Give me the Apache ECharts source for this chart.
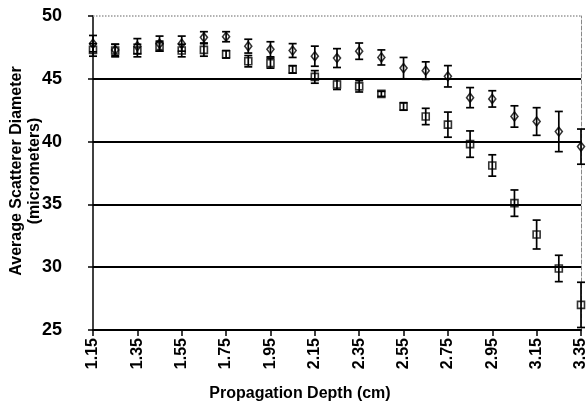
<!DOCTYPE html>
<html>
<head>
<meta charset="utf-8">
<script src="https://cdn.jsdelivr.net/npm/echarts@6/dist/echarts.min.js"></script>
<style>html,body{margin:0;padding:0;background:#fff;}#c{width:587px;height:407px;}</style>
</head>
<body>
<div id="c"></div>
<script>
const depths = ['1.15','1.25','1.35','1.45','1.55','1.65','1.75','1.85','1.95','2.05','2.15','2.25','2.35','2.45','2.55','2.65','2.75','2.85','2.95','3.05','3.15','3.25','3.35'];
const diamondMean = [47.8,47.3,47.6,47.8,47.8,48.3,48.35,47.6,47.35,47.25,46.8,46.65,47.2,46.7,45.85,45.65,45.2,43.5,43.4,42.0,41.6,40.8,39.6];
const diamondErr  = [0.65,0.45,0.6,0.6,0.6,0.45,0.4,0.55,0.6,0.55,0.8,0.75,0.65,0.6,0.85,0.7,0.85,0.8,0.65,0.85,1.1,1.6,1.4];
const squareMean  = [47.3,47.25,47.25,47.6,47.25,47.3,46.95,46.4,46.25,45.75,45.15,44.55,44.4,43.8,42.8,42.0,41.35,39.8,38.1,35.1,32.6,29.9,27.0];
const squareErr   = [0.5,0.5,0.5,0.4,0.5,0.5,0.3,0.45,0.4,0.3,0.5,0.4,0.45,0.2,0.3,0.65,1.0,1.05,0.85,1.05,1.15,1.05,1.8];
const yTicks = [25,30,35,40,45,50];
const yTitle = 'Average Scatterer Diameter\n(micrometers)';
const xTitle = 'Propagation Depth (cm)';

const FONT = 'Arial, "Liberation Sans", sans-serif';
function errData(mean, err){ return mean.map((m,i)=>[i, m-err[i], m+err[i]]); }
function errRender(params, api){
  const x = api.value(0);
  const lo = api.coord([x, api.value(1)]);
  const hi = api.coord([x, api.value(2)]);
  const cw = 4;
  const st = {stroke:'#000', lineWidth:1.7};
  return {type:'group', children:[
    {type:'line', shape:{x1:lo[0],y1:lo[1],x2:hi[0],y2:hi[1]}, style:st},
    {type:'line', shape:{x1:lo[0]-cw,y1:lo[1],x2:lo[0]+cw,y2:lo[1]}, style:st},
    {type:'line', shape:{x1:hi[0]-cw,y1:hi[1],x2:hi[0]+cw,y2:hi[1]}, style:st}
  ]};
}

const chart = echarts.init(document.getElementById('c'), null, {renderer:'canvas'});
chart.setOption({
  animation:false,
  backgroundColor:'#fff',
  grid:{left:93, right:6, top:16, bottom:77, containLabel:false, outerBoundsMode:'none'},
  graphic:[{
    type:'text', x:26, y:171, rotation:Math.PI/2,
    style:{text:yTitle, fontFamily:FONT, fontWeight:'bold', fontSize:16, lineHeight:18, fill:'#000',
      align:'center', verticalAlign:'middle'}
  },{
    type:'text', x:300, y:394,
    style:{text:xTitle, fontFamily:FONT, fontWeight:'bold', fontSize:16, fill:'#000',
      align:'center', verticalAlign:'middle'}
  }],
  xAxis:{
    type:'category', data:depths, boundaryGap:false,
    axisLine:{lineStyle:{color:'#000', width:2}},
    axisTick:{show:true, interval:1, length:6, lineStyle:{color:'#000', width:1.5}, alignWithLabel:true},
    axisLabel:{interval:1, rotate:90, margin:8, fontFamily:FONT, fontWeight:'bold', fontSize:16, color:'#000'},
    splitLine:{show:false}
  },
  yAxis:[{
    type:'value', min:yTicks[0], max:yTicks[yTicks.length-1], interval:5,
    axisLine:{show:true, lineStyle:{color:'#000', width:1.5}},
    axisTick:{show:true, length:5, lineStyle:{color:'#000', width:1.5}},
    axisLabel:{margin:31, fontFamily:FONT, fontWeight:'bold', fontSize:18, color:'#000'},
    splitLine:{show:true, lineStyle:{color:['#000','#000','#000','#000','#000','rgba(0,0,0,0)'], width:2}}
  },{
    type:'value', min:yTicks[0], max:yTicks[yTicks.length-1], interval:5, position:'right',
    axisLine:{show:true, lineStyle:{color:'#888', width:1, type:'dashed'}},
    axisTick:{show:false}, axisLabel:{show:false}, splitLine:{show:false}
  }],
  series:[
    {type:'custom', name:'diamondErr', renderItem:errRender, data:errData(diamondMean, diamondErr), z:2,
     markLine:{silent:true, symbol:'none', label:{show:false}, lineStyle:{color:'#999', type:'dotted', width:1.5},
       data:[{yAxis:yTicks[yTicks.length-1]}]}},
    {type:'custom', name:'squareErr', renderItem:errRender, data:errData(squareMean, squareErr), z:2},
    {type:'scatter', name:'diamond', data:diamondMean, symbol:'diamond', symbolSize:[7,9], z:3,
     itemStyle:{color:'rgba(255,255,255,0)', borderColor:'#000', borderWidth:1.6}},
    {type:'scatter', name:'square', data:squareMean, symbol:'rect', symbolSize:7, z:4,
     itemStyle:{color:'rgba(255,255,255,0)', borderColor:'#000', borderWidth:1.6}}
  ]
});
</script>
</body>
</html>
